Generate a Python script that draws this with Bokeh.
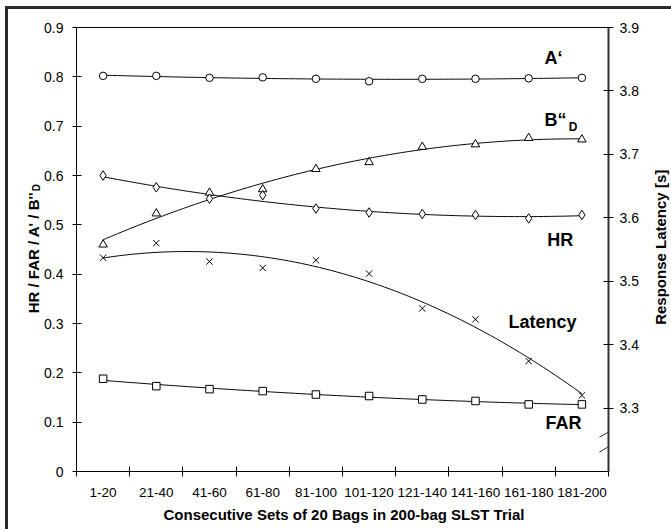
import numpy as np
from bokeh.plotting import figure
from bokeh.models import Range1d, LinearAxis, FixedTicker, Label, Arrow
from bokeh.embed import file_html
from bokeh.resources import INLINE

# ---------------- data ----------------
categories = ["1-20", "21-40", "41-60", "61-80", "81-100",
              "101-120", "121-140", "141-160", "161-180", "181-200"]
a_prime = [0.802, 0.802, 0.798, 0.799, 0.796, 0.791, 0.796, 0.796, 0.797, 0.798]
b_dd = [0.460, 0.523, 0.565, 0.572, 0.613, 0.627, 0.658, 0.663, 0.676, 0.673]
hit_rate = [0.600, 0.576, 0.553, 0.560, 0.533, 0.525, 0.522, 0.520, 0.513, 0.520]
false_alarm = [0.188, 0.173, 0.167, 0.163, 0.156, 0.153, 0.146, 0.143, 0.136, 0.136]
latency = [3.537, 3.560, 3.531, 3.521, 3.533, 3.512, 3.457, 3.440, 3.374, 3.320]
left_ticks = [0, 0.1, 0.2, 0.3, 0.4, 0.5, 0.6, 0.7, 0.8, 0.9]
right_ticks = [3.3, 3.4, 3.5, 3.6, 3.7, 3.8, 3.9]

FONT = "Liberation Sans"
idx = np.arange(1, len(categories) + 1)

p = figure(frame_width=532, frame_height=444,
           x_range=Range1d(0.5, 10.5), y_range=Range1d(0, 0.9),
           output_backend="svg", toolbar_location=None,
           min_border_left=68, min_border_right=63,
           min_border_top=18, min_border_bottom=58,
           background_fill_color="white", border_fill_color="white")
p.extra_y_ranges = {"lat": Range1d(3.2, 3.9)}
p.xgrid.visible = False
p.ygrid.visible = False
p.outline_line_color = "black"
p.outline_line_width = 1
p.styles = {"margin-left": "5px", "margin-top": "6px",
            "border-left": "3px solid #2a2a2a", "border-top": "3px solid #2a2a2a"}

# x axis: labels at category centres, ticks at boundaries
xa = p.xaxis[0]
xa.ticker = FixedTicker(ticks=list(idx), minor_ticks=[i + 0.5 for i in range(0, 11)])
xa.major_label_overrides = {int(i): c for i, c in zip(idx, categories)}
xa.major_tick_in = 0
xa.major_tick_out = 0
xa.minor_tick_in = 5
xa.minor_tick_out = 5
xa.minor_tick_line_color = "black"
xa.axis_line_color = "black"
xa.major_label_text_font = FONT
xa.major_label_text_font_size = "13.5px"
xa.major_label_text_color = "black"
xa.major_label_standoff = 11

ya = p.yaxis[0]
ya.ticker = FixedTicker(ticks=left_ticks, minor_ticks=[])
ya.major_label_overrides = {0: "0"}
ya.major_tick_in = 5
ya.major_tick_out = 4
ya.major_tick_line_color = "black"
ya.axis_line_color = "black"
ya.major_label_text_font = FONT
ya.major_label_text_font_size = "14px"
ya.major_label_text_color = "black"
ya.major_label_standoff = 9

ra = LinearAxis(y_range_name="lat", ticker=FixedTicker(ticks=right_ticks, minor_ticks=[]))
ra.major_tick_in = 5
ra.major_tick_out = 5
ra.major_tick_line_color = "black"
ra.axis_line_color = "#333333"
ra.axis_line_width = 2
ra.major_label_text_font = FONT
ra.major_label_text_font_size = "14px"
ra.major_label_text_color = "black"
ra.major_label_standoff = 6
p.add_layout(ra, "right")

# ---------------- trend lines (2nd order polynomial fits) ----------------
xs = np.linspace(1, 10, 200)
for vals, rng in [(a_prime, None), (b_dd, None), (hit_rate, None),
                  (false_alarm, None), (latency, "lat")]:
    coef = np.polyfit(idx, vals, 2)
    kw = {"y_range_name": rng} if rng else {}
    p.line(xs, np.polyval(coef, xs), line_color="black", line_width=1, **kw)

# ---------------- markers ----------------
mk = dict(fill_color="white", line_color="black", line_width=1)
p.scatter(idx, a_prime, marker="circle", size=7.5, **mk)
p.scatter(idx, b_dd, marker="triangle", size=8.5, **mk)
p.scatter(idx, hit_rate, marker="diamond", size=9.5, **mk)
p.scatter(idx, false_alarm, marker="square", size=7.5, **mk)
p.scatter(idx, latency, marker="x", size=9, line_color="black", line_width=1,
          y_range_name="lat")

# ---------------- labels ----------------
def mklab(text, x, y, size="18px", **kw):
    return Label(x=x, y=y, text=text, text_font=FONT, text_font_size=size,
                 text_font_style="bold", text_color="black", **kw)

p.add_layout(mklab("A\u2018", 9.297, 0.818))
p.add_layout(mklab("B\u201c", 9.297, 0.693))
p.add_layout(mklab("D", 9.754, 0.684, size="12px"))
p.add_layout(mklab("HR", 9.35, 0.449))
p.add_layout(mklab("Latency", 8.62, 0.282))
p.add_layout(mklab("FAR", 9.316, 0.078))

# axis titles, placed in the side panels so they are not clipped
p.add_layout(mklab("Consecutive Sets of 20 Bags in 200-bag SLST Trial", 5.528, -0.087,
                   size="15px", text_align="center", text_baseline="middle"), "below")
p.add_layout(mklab("Response Latency [s]", 11.477, 0.2973, size="15px", angle=np.pi / 2,
                   text_align="left", text_baseline="alphabetic"), "right")
p.add_layout(mklab("HR / FAR / A' / B''", -0.308, 0.3206, size="15px", angle=np.pi / 2,
                   text_align="left", text_baseline="alphabetic"), "left")
p.add_layout(mklab("D", -0.245, 0.568, size="10px", angle=np.pi / 2,
                   text_align="left", text_baseline="alphabetic"), "left")

# axis break marks on the right axis
for (x0, y0, x1, y1) in [(10.33, 3.2542, 10.67, 3.2700), (10.33, 3.2305, 10.67, 3.2479)]:
    p.add_layout(Arrow(end=None, x_start=x0, y_start=y0, x_end=x1, y_end=y1,
                       y_range_name="lat", line_color="#333333", line_width=1), "right")

open("out.html", "w").write(file_html(p, INLINE))
